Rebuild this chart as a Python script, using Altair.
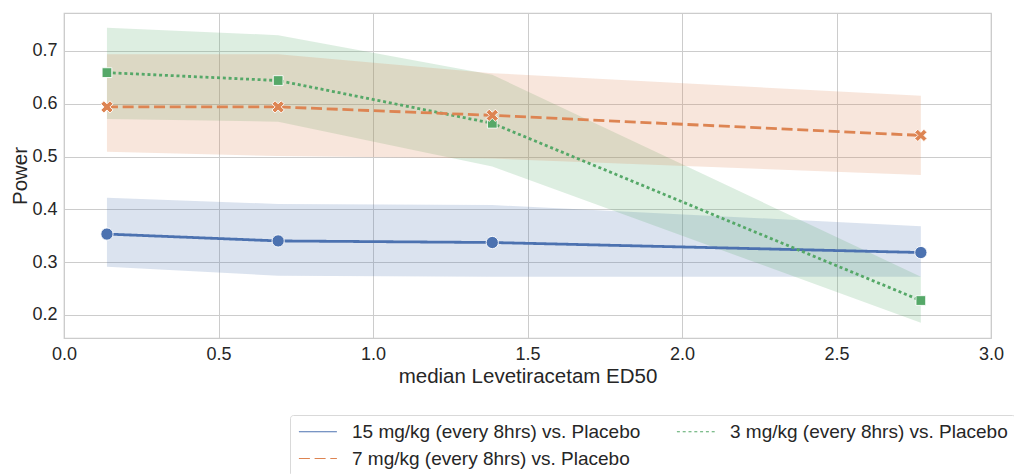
import altair as alt
import pandas as pd

series_names = [
    "15 mg/kg (every 8hrs) vs. Placebo",
    "3 mg/kg (every 8hrs) vs. Placebo",
    "7 mg/kg (every 8hrs) vs. Placebo",
]
x_vals = [0.139, 0.693, 1.386, 2.773]

mean_15 = [0.353, 0.340, 0.337, 0.318]
lo_15 = [0.291, 0.274, 0.272, 0.272]
hi_15 = [0.422, 0.410, 0.408, 0.368]

mean_7 = [0.594, 0.594, 0.578, 0.540]
lo_7 = [0.509, 0.501, 0.496, 0.465]
hi_7 = [0.694, 0.694, 0.658, 0.615]

mean_3 = [0.659, 0.644, 0.563, 0.227]
lo_3 = [0.571, 0.566, 0.481, 0.185]
hi_3 = [0.744, 0.730, 0.655, 0.272]

colors = ["#4c72b0", "#55a868", "#dd8452"]
dashes = [[1, 0], [3, 2.8], [11, 4.7]]
x_shape = ("M-1,-0.5L-0.5,-1L0,-0.5L0.5,-1L1,-0.5L0.5,0L1,0.5L0.5,1"
           "L0,0.5L-0.5,1L-1,0.5L-0.5,0Z")
shapes = ["circle", "square", x_shape]
sizes = [150, 95, 150]

rows = []
for name, m, lo, hi in [
    (series_names[0], mean_15, lo_15, hi_15),
    (series_names[1], mean_3, lo_3, hi_3),
    (series_names[2], mean_7, lo_7, hi_7),
]:
    for x, a, b, c in zip(x_vals, m, lo, hi):
        rows.append({"x": x, "power": a, "lo": b, "hi": c, "series": name, "grp": name})
df = pd.DataFrame(rows)

xs = alt.Scale(domain=[0, 3], nice=False)
ys = alt.Scale(domain=[0.156, 0.772], nice=False, zero=False)

xaxis = alt.Axis(values=[0, 0.5, 1, 1.5, 2, 2.5, 3], format=".1f",
                 title="median Levetiracetam ED50", labelFlush=False)
yaxis = alt.Axis(values=[0.2, 0.3, 0.4, 0.5, 0.6, 0.7], format=".1f", title="Power",
                 labelFlush=False)

base = alt.Chart(df)

# bands use a separate grouping field so that only the line layer drives the legend
band = base.mark_area(opacity=0.2).encode(
    x=alt.X("x:Q", scale=xs, axis=xaxis),
    y=alt.Y("lo:Q", scale=ys, axis=yaxis),
    y2="hi:Q",
    fill=alt.Fill("grp:N", scale=alt.Scale(range=colors), legend=None),
    detail="grp:N",
)

legend_props = dict(
    title=None,
    orient="none",
    legendX=226,
    legendY=402,
    columns=2,
    direction="horizontal",
    symbolType="M-1,0L4,0",
    symbolSize=231,
    symbolStrokeWidth=1.2,
    symbolOpacity=1,
    labelFontSize=19,
    labelFont="Liberation Sans",
    labelColor="#262626",
    labelLimit=400,
    labelOffset=36,
    columnPadding=33,
    rowPadding=7,
    padding=7,
    strokeColor="#d9d9d9",
    fillColor="white",
    cornerRadius=3,
)

line = base.mark_line(strokeWidth=2.8).encode(
    x="x:Q",
    y="power:Q",
    color=alt.Color("series:N", scale=alt.Scale(domain=series_names, range=colors),
                    legend=alt.Legend(**legend_props)),
    strokeDash=alt.StrokeDash("series:N", scale=alt.Scale(domain=series_names, range=dashes),
                              legend=alt.Legend(**legend_props)),
)

pt_layers = []
for name, col, shp, sz in zip(series_names, colors, shapes, sizes):
    pt_layers.append(
        base.transform_filter(alt.datum.grp == name)
        .mark_point(filled=True, opacity=1, stroke="white", strokeWidth=0.9,
                    fill=col, shape=shp, size=sz)
        .encode(x="x:Q", y="power:Q")
    )

chart = (
    alt.layer(band, line, *pt_layers)
    .properties(
        width=927,
        height=325,
        autosize=alt.AutoSizeParams(type="none"),
        padding={"left": 64, "top": 13, "right": 23, "bottom": 136},
    )
    .configure_view(stroke="#cccccc", strokeWidth=1.25)
    .configure_axis(
        grid=True,
        gridColor="#cccccc",
        gridWidth=1,
        domain=False,
        ticks=False,
        labelFont="Liberation Sans",
        labelFontSize=18,
        labelColor="#262626",
        labelPadding=7,
        titleFont="Liberation Sans",
        titleFontSize=20.5,
        titleFontWeight="normal",
        titleColor="#262626",
    )
    .configure_axisX(titlePadding=3)
    .configure_axisY(titlePadding=1)
)

chart.save("out.html", embed_options={"renderer": "svg", "actions": False})
